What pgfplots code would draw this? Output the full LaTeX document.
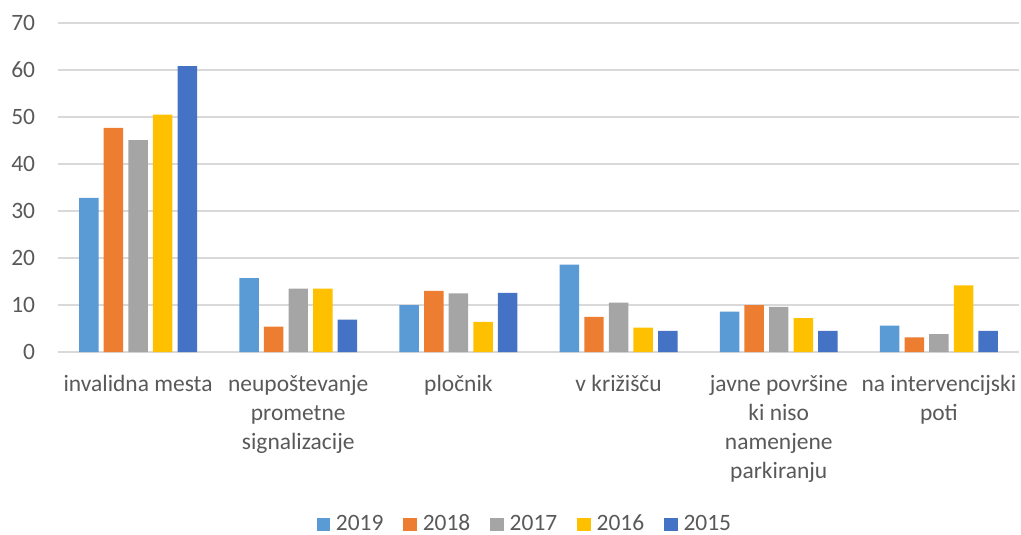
\documentclass[border=0pt]{standalone}
\usepackage{fontspec}
\setmainfont{Carlito}
\usepackage{pgfplots}
\pgfplotsset{compat=1.18}
\definecolor{c19}{HTML}{5B9BD5}
\definecolor{c18}{HTML}{ED7D31}
\definecolor{c17}{HTML}{A5A5A5}
\definecolor{c16}{HTML}{FFC000}
\definecolor{c15}{HTML}{4472C4}
\definecolor{gridgray}{HTML}{D9D9D9}
\definecolor{txtgray}{HTML}{595959}
\begin{document}
\fontsize{17.6pt}{21.75pt}\selectfont
\begin{tikzpicture}
\path[use as bounding box] (-43.5pt,-137.25pt) rectangle (722.25pt,264pt);
\begin{axis}[
  at={(0pt,0pt)}, anchor=south west,
  scale only axis, width=720.75pt, height=246.75pt,
  ybar=3.85pt, bar width=14.6pt,
  xmin=-0.5, xmax=5.5, ymin=0, ymax=70,
  ytick={0,10,...,70}, xtick={0,1,2,3,4,5},
  xticklabels={invalidna mesta, {neupoštevanje\\prometne\\signalizacije}, pločnik, v križišču, {javne površine\\ki niso\\namenjene\\parkiranju}, {na intervencijski\\poti}},
  axis line style={draw=none},
  major tick length=0pt,
  ymajorgrids, grid style={color=gridgray, line width=1.1pt},
  /pgf/number format/assume math mode=true,
  tick label style={text=txtgray, font=\fontsize{17.6pt}{21.75pt}\selectfont},
  yticklabel style={inner sep=0pt, xshift=-17pt},
  xticklabel style={align=center, inner sep=0pt, anchor=north, yshift=-17pt},
  legend style={at={(0.5,-0.5244)}, anchor=center, xshift=-10pt, draw=none, fill=none,
    legend columns=-1, text=txtgray, font=\fontsize{17.6pt}{21.75pt}\selectfont,
    /tikz/every even column/.append style={column sep=13pt},
    /tikz/every odd column/.append style={column sep=2.5pt}},
  legend image code/.code={\fill[#1] (0pt,-5pt) rectangle (10pt,5pt);},
  every axis plot/.append style={draw=none},
]
\addplot[fill=c19] coordinates {(0,32.8) (1,15.7) (2,10.0) (3,18.6) (4,8.6) (5,5.6)};
\addplot[fill=c18] coordinates {(0,47.7) (1,5.4) (2,13.0) (3,7.5) (4,10.0) (5,3.1)};
\addplot[fill=c17] coordinates {(0,45.1) (1,13.5) (2,12.5) (3,10.5) (4,9.6) (5,3.8)};
\addplot[fill=c16] coordinates {(0,50.5) (1,13.5) (2,6.4) (3,5.2) (4,7.2) (5,14.2)};
\addplot[fill=c15] coordinates {(0,60.8) (1,6.9) (2,12.6) (3,4.5) (4,4.5) (5,4.5)};
\legend{2019,2018,2017,2016,2015}
\end{axis}
\end{tikzpicture}
\end{document}
